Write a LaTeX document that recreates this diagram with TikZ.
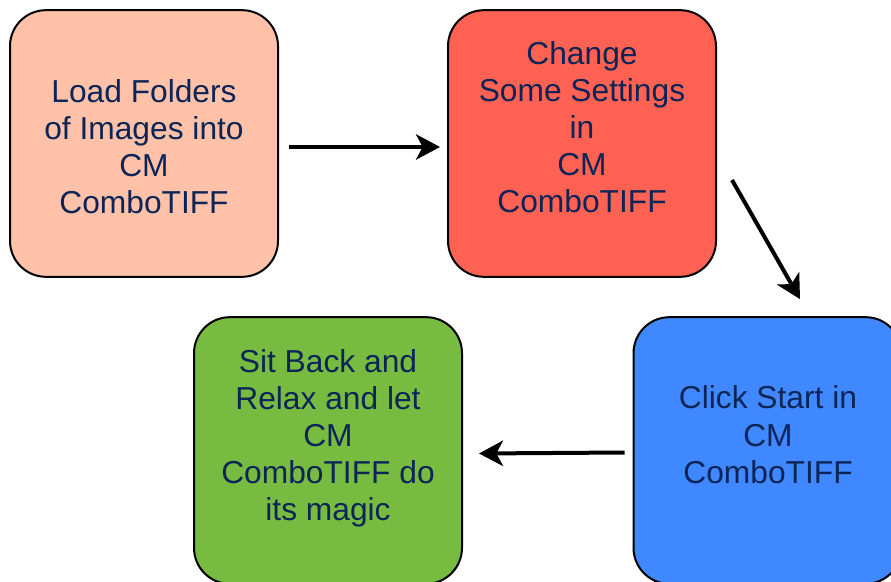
\documentclass[tikz,border=0pt]{standalone}
\usepackage{fontspec}
\setmainfont{Liberation Sans}
\usetikzlibrary{arrows.meta}

\definecolor{ink}{RGB}{12,36,86}
\definecolor{peach}{RGB}{255,194,169}
\definecolor{tomato}{RGB}{255,98,82}
\definecolor{sky}{RGB}{64,136,255}
\definecolor{leaf}{RGB}{120,187,65}

\begin{document}
\begin{tikzpicture}[x=0.75pt,y=-0.75pt,>={Stealth[length=18pt,width=19pt,inset=5pt]},line width=3pt]
		\tikzstyle{stepbox}=[draw,line width=1.5pt,rounded corners=27pt,minimum width=201pt,minimum height=200pt,inner sep=0pt]
		\tikzstyle{steptext}=[anchor=north,inner sep=0pt,align=center,text=ink,font={\fontsize{23.8pt}{27.75pt}\selectfont}]

		\clip (0,0) rectangle (891,581);

		\node[stepbox,fill=peach] (load) at (144,143.5) {};
		\node[stepbox,fill=tomato] (change) at (582,143.5) {};
		\node[stepbox,fill=sky] (start) at (767.5,450.5) {};
		\node[stepbox,fill=leaf] (relax) at (328,450.5) {};

		\node[steptext] (loadtext) at (144,78) {Load Folders\\of Images into\\CM\\ComboTIFF};
		\node[steptext] (changetext) at (582,40) {Change\\Some Settings\\in\\CM\\ComboTIFF};
		\node[steptext] (starttext) at (768,384) {Click Start in\\CM\\ComboTIFF};
		\node[steptext] (relaxtext) at (328,347) {Sit Back and\\Relax and let\\CM\\ComboTIFF do\\its magic};

		\draw[->] ([shift={(10,3.5)}]load.east) -- ([shift={(-7,3.5)}]change.west);
		\draw[->] ([shift={(15,36.5)}]change.east) -- ([shift={(32.5,-17)}]start.north);
		\draw[->] ([shift={(-8,2)}]start.west) -- ([shift={(16,3)}]relax.east);
	\end{tikzpicture}
\end{document}
